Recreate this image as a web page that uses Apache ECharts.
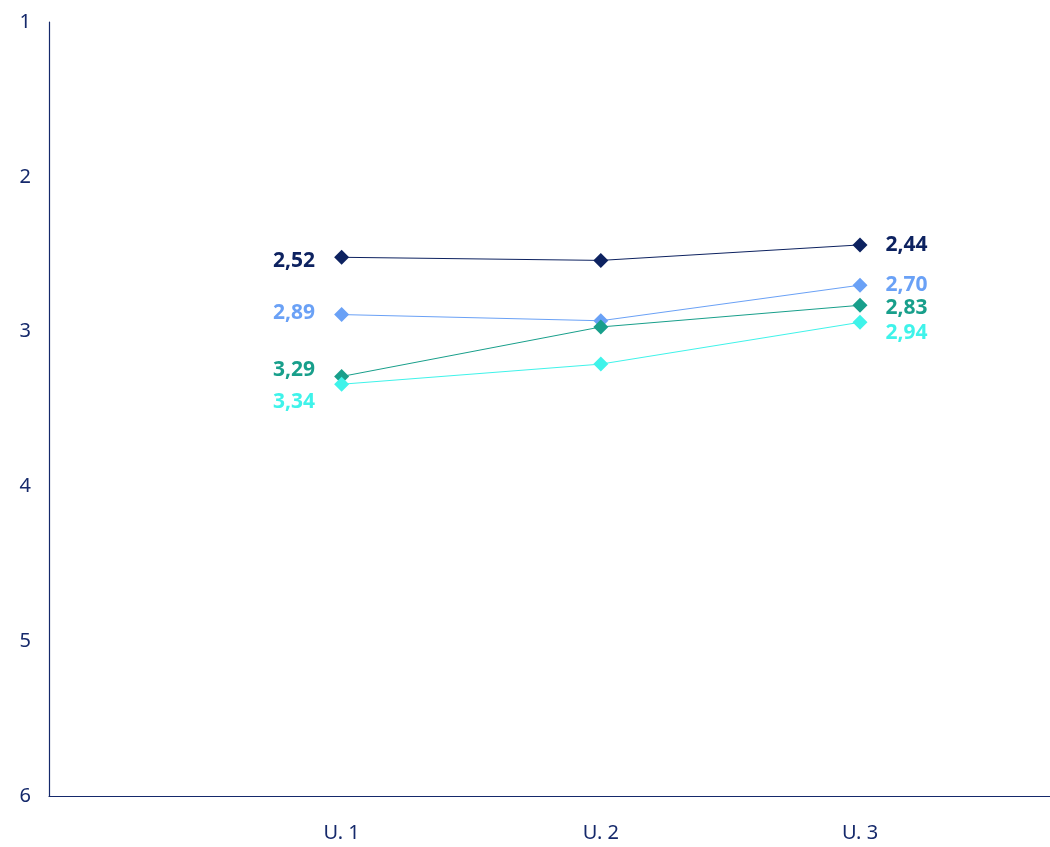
<!DOCTYPE html>
<html>
<head>
<meta charset="utf-8">
<script src="https://cdn.jsdelivr.net/npm/echarts@6/dist/echarts.min.js"></script>
<style>
  html, body { margin: 0; padding: 0; background: #ffffff; }
  #chart { width: 1050px; height: 847px; }
</style>
</head>
<body>
<div id="chart"></div>
<script>
// Survey rounds on the horizontal axis
const categories = ['U. 1', 'U. 2', 'U. 3'];

// Average scores per group (scale 1 = best, 6 = worst)
const navyValues = [2.52, 2.54, 2.44];
const blueValues = [2.89, 2.93, 2.70];
const tealValues = [3.29, 2.97, 2.83];
const cyanValues = [3.34, 3.21, 2.94];

// Y tick labels
const yTicks = [1, 2, 3, 4, 5, 6];

const colors = {
  navy: '#0d2260',
  blue: '#6aa1f6',
  teal: '#189f8b',
  cyan: '#3ff3ea'
};
const axisColor = '#15296b';
const fontFamily = '"Noto Sans", Lato, sans-serif';

// Vertical nudges for first / last labels so close values do not collide
const labelNudge = {
  navy: [4, 0],
  blue: [-2, 0],
  teal: [-6, 3],
  cyan: [18, 11]
};

function fmt(v) {
  return v.toFixed(2).replace('.', ',');
}

function makeSeries(name, values, color) {
  const nudge = labelNudge[name];
  return {
    name: name,
    type: 'line',
    symbol: 'diamond',
    symbolSize: 15,
    lineStyle: { color: color, width: 1 },
    itemStyle: { color: color },
    z: 3,
    data: values.map(function (v, i) {
      const item = { value: [i + 1, v] };
      if (i === 0) {
        item.label = { show: true, position: 'left', distance: 19, offset: [0, nudge[0]] };
      } else if (i === values.length - 1) {
        item.label = { show: true, position: 'right', distance: 18, offset: [0, nudge[1]] };
      } else {
        item.label = { show: false };
      }
      return item;
    }),
    label: {
      color: color,
      fontFamily: fontFamily,
      fontWeight: 'bold',
      fontSize: 21,
      formatter: function (p) { return fmt(p.value[1]); }
    }
  };
}

const chart = echarts.init(document.getElementById('chart'), null, { renderer: 'canvas' });

chart.setOption({
  animation: false,
  backgroundColor: '#ffffff',
  grid: { left: 49, right: 0, top: 22, bottom: 51, containLabel: false },
  xAxis: {
    type: 'value',
    min: -0.129,
    max: 3.733,
    axisLine: { show: true, onZero: false, lineStyle: { color: axisColor, width: 1.2 } },
    axisTick: { show: false },
    splitLine: { show: false },
    axisLabel: {
      color: axisColor,
      fontFamily: fontFamily,
      fontSize: 20,
      margin: 27,
      customValues: categories.map(function (c, i) { return i + 1; }),
      formatter: function (v) {
        return categories[Math.round(v) - 1] || '';
      }
    }
  },
  yAxis: {
    type: 'value',
    inverse: true,
    min: yTicks[0],
    max: yTicks[yTicks.length - 1],
    interval: 1,
    axisLine: { show: true, onZero: false, lineStyle: { color: axisColor, width: 1.2 } },
    axisTick: { show: false },
    splitLine: { show: false },
    axisLabel: {
      color: axisColor,
      fontFamily: fontFamily,
      fontSize: 20,
      margin: 18,
      formatter: function (v) { return String(v); }
    }
  },
  series: [
    makeSeries('navy', navyValues, colors.navy),
    makeSeries('blue', blueValues, colors.blue),
    makeSeries('teal', tealValues, colors.teal),
    makeSeries('cyan', cyanValues, colors.cyan)
  ]
});
</script>
</body>
</html>
